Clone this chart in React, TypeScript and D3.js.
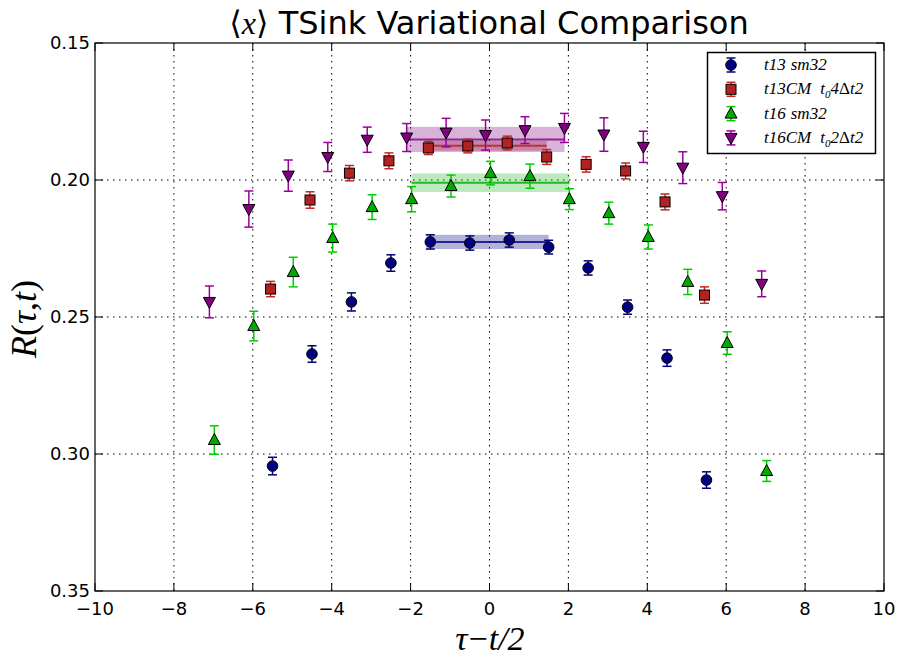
import React from "react";
import * as d3 from "d3";

const W = 899, H = 657;
const X0 = 95, X1 = 884, Y0 = 43, Y1 = 591;

const xTicks = [-10, -8, -6, -4, -2, 0, 2, 4, 6, 8, 10];
const yTicks = [0.15, 0.2, 0.25, 0.3, 0.35];

const blueX = [-5.5, -4.5, -3.5, -2.5, -1.5, -0.5, 0.5, 1.5, 2.5, 3.5, 4.5, 5.5];
const blueY = [0.3044, 0.2635, 0.2445, 0.2303, 0.2226, 0.2230, 0.2219, 0.2245, 0.2321, 0.2464, 0.2650, 0.3095];
const blueE = [0.0032, 0.003, 0.0033, 0.003, 0.0026, 0.0026, 0.0026, 0.0025, 0.0026, 0.0026, 0.003, 0.003];

const redX = [-5.55, -4.55, -3.55, -2.55, -1.55, -0.55, 0.45, 1.45, 2.45, 3.45, 4.45, 5.45];
const redY = [0.2398, 0.2073, 0.1975, 0.1930, 0.1883, 0.1876, 0.1865, 0.1916, 0.1943, 0.1967, 0.2080, 0.2420];
const redE = [0.0028, 0.003, 0.0028, 0.0029, 0.0024, 0.0025, 0.0025, 0.0027, 0.0028, 0.0029, 0.0029, 0.003];

const greenX = [-6.975, -5.975, -4.975, -3.975, -2.975, -1.975, -0.975, 0.025, 1.025, 2.025, 3.025, 4.025, 5.025, 6.025, 7.025];
const greenY = [0.2949, 0.2533, 0.2336, 0.2212, 0.2099, 0.2070, 0.2022, 0.1975, 0.1986, 0.2070, 0.2121, 0.2208, 0.2372, 0.2595, 0.3062];
const greenE = [0.0052, 0.0054, 0.0054, 0.0051, 0.0045, 0.0046, 0.004, 0.0043, 0.0044, 0.0038, 0.004, 0.0044, 0.0046, 0.0041, 0.0038];

const purpleX = [-7.1, -6.1, -5.1, -4.1, -3.1, -2.1, -1.1, -0.1, 0.9, 1.9, 2.9, 3.9, 4.9, 5.9, 6.9];
const purpleY = [0.2445, 0.2106, 0.1984, 0.1916, 0.1853, 0.1845, 0.1827, 0.1836, 0.1818, 0.1810, 0.1834, 0.1879, 0.1955, 0.2059, 0.2379];
const purpleE = [0.0058, 0.0066, 0.0057, 0.0053, 0.0046, 0.0051, 0.0052, 0.0055, 0.0049, 0.0053, 0.0061, 0.0057, 0.0058, 0.005, 0.0047];

// fits: [xStart, xEnd, value, error]
const blueFit = [-1.6, 1.5, 0.2226, 0.0026];
const redFit = [-1.55, 1.45, 0.1875, 0.0018];
const greenFit = [-1.975, 2.025, 0.2010, 0.0034];
const purpleFit = [-2.1, 1.9, 0.1852, 0.0046];

const series = [
  { name: "blue", xs: blueX, ys: blueY, es: blueE, fit: blueFit, fill: "#000080", bar: "#000080", band: "#000080", marker: "circle" },
  { name: "red", xs: redX, ys: redY, es: redE, fit: redFit, fill: "#b22222", bar: "#c02828", band: "#b22222", marker: "square" },
  { name: "green", xs: greenX, ys: greenY, es: greenE, fit: greenFit, fill: "#00aa00", bar: "#00cc00", band: "#22bb22", marker: "up" },
  { name: "purple", xs: purpleX, ys: purpleY, es: purpleE, fit: purpleFit, fill: "#800080", bar: "#990099", band: "#800080", marker: "down" },
];

const x = d3.scaleLinear().domain([-10, 10]).range([X0, X1]);
const y = d3.scaleLinear().domain([0.15, 0.35]).range([Y0, Y1]);

const MATH = "'Liberation Serif', 'DejaVu Serif', serif";
const SANS = "'DejaVu Sans', sans-serif";

function Marker({ kind, cx, cy, fill }: { kind: string; cx: number; cy: number; fill: string }) {
  if (kind === "circle") return <circle cx={cx} cy={cy} r={5.3} fill={fill} stroke="#000" strokeWidth={1} />;
  if (kind === "square") return <rect x={cx - 5} y={cy - 5} width={10} height={10} fill={fill} stroke="#000" strokeWidth={1} />;
  if (kind === "up") return <path d={`M${cx},${cy - 6.5} L${cx + 6},${cy + 4.5} L${cx - 6},${cy + 4.5} Z`} fill={fill} stroke="#000" strokeWidth={1} />;
  return <path d={`M${cx},${cy + 6.5} L${cx + 6},${cy - 4.5} L${cx - 6},${cy - 4.5} Z`} fill={fill} stroke="#000" strokeWidth={1} />;
}

function ErrBar({ cx, y1, y2, color }: { cx: number; y1: number; y2: number; color: string }) {
  return (
    <g stroke={color} strokeWidth={1.5}>
      <line x1={cx} x2={cx} y1={y1} y2={y2} />
      <line x1={cx - 4.5} x2={cx + 4.5} y1={y1} y2={y1} />
      <line x1={cx - 4.5} x2={cx + 4.5} y1={y2} y2={y2} />
    </g>
  );
}

export default function App() {
  const legendItems = [
    { s: series[0], label: <><tspan>t13</tspan><tspan dx={5}>sm32</tspan></> },
    { s: series[1], label: <><tspan>t13CM</tspan><tspan dx={9}>t</tspan><tspan fontSize={11} dy={4}>0</tspan><tspan dy={-4}>4</tspan><tspan fontStyle="normal">Δ</tspan><tspan>t2</tspan></> },
    { s: series[2], label: <><tspan>t16</tspan><tspan dx={5}>sm32</tspan></> },
    { s: series[3], label: <><tspan>t16CM</tspan><tspan dx={9}>t</tspan><tspan fontSize={11} dy={4}>0</tspan><tspan dy={-4}>2</tspan><tspan fontStyle="normal">Δ</tspan><tspan>t2</tspan></> },
  ];
  return (
    <svg width={W} height={H} style={{ position: "absolute", left: 0, top: 0, background: "#fff" }}>
      <rect x={0} y={0} width={W} height={H} fill="#fff" />
      {/* grid */}
      <g stroke="#000" strokeWidth={1} strokeDasharray="1.5,4.5">
        {xTicks.slice(1, -1).map((t) => (
          <line key={"gx" + t} x1={x(t)} x2={x(t)} y1={Y0} y2={Y1} />
        ))}
        {yTicks.slice(1, -1).map((t) => (
          <line key={"gy" + t} x1={X0} x2={X1} y1={y(t)} y2={y(t)} />
        ))}
      </g>
      {/* bands */}
      {series.map((s) => (
        <rect key={"b" + s.name} x={x(s.fit[0])} width={x(s.fit[1]) - x(s.fit[0])} y={y(s.fit[2] - s.fit[3])} height={y(s.fit[2] + s.fit[3]) - y(s.fit[2] - s.fit[3])} fill={s.band} fillOpacity={0.3} />
      ))}
      {series.map((s) => (
        <line key={"l" + s.name} x1={x(s.fit[0])} x2={x(s.fit[1])} y1={y(s.fit[2])} y2={y(s.fit[2])} stroke={s.fill} strokeWidth={2} strokeOpacity={0.8} />
      ))}
      {/* points */}
      {series.map((s) => (
        <g key={"p" + s.name}>
          {s.xs.map((xv, i) => (
            <ErrBar key={i} cx={x(xv)} y1={y(s.ys[i] - s.es[i])} y2={y(s.ys[i] + s.es[i])} color={s.bar} />
          ))}
          {s.xs.map((xv, i) => (
            <Marker key={"m" + i} kind={s.marker} cx={x(xv)} cy={y(s.ys[i])} fill={s.fill} />
          ))}
        </g>
      ))}
      {/* frame */}
      <rect x={X0} y={Y0} width={X1 - X0} height={Y1 - Y0} fill="none" stroke="#000" strokeWidth={1.2} />
      {/* ticks */}
      <g stroke="#000" strokeWidth={1}>
        {xTicks.map((t) => (
          <g key={"tx" + t}>
            <line x1={x(t)} x2={x(t)} y1={Y1} y2={Y1 - 8} />
            <line x1={x(t)} x2={x(t)} y1={Y0} y2={Y0 + 8} />
          </g>
        ))}
        {yTicks.map((t) => (
          <g key={"ty" + t}>
            <line x1={X0} x2={X0 + 8} y1={y(t)} y2={y(t)} />
            <line x1={X1} x2={X1 - 8} y1={y(t)} y2={y(t)} />
          </g>
        ))}
      </g>
      <g fontFamily={SANS} fontSize={18} fill="#000">
        {xTicks.map((t) => (
          <text key={"lx" + t} x={x(t)} y={Y1 + 24} textAnchor="middle">{t < 0 ? "\u2212" + Math.abs(t) : String(t)}</text>
        ))}
        {yTicks.map((t) => (
          <text key={"ly" + t} x={X0 - 5} y={y(t) + 6} textAnchor="end">{d3.format(".2f")(t)}</text>
        ))}
      </g>
      {/* title */}
      <text x={489} y={34} textAnchor="middle" fontSize={32} fontFamily={SANS}>
        <tspan fontFamily={MATH}>⟨</tspan><tspan fontFamily={MATH} fontStyle="italic">x</tspan><tspan fontFamily={MATH}>⟩</tspan>
        <tspan> TSink Variational Comparison</tspan>
      </text>
      {/* axis labels */}
      <text x={490} y={650} textAnchor="middle" fontSize={34} fontFamily={MATH} fontStyle="italic">
        τ<tspan fontStyle="normal" dx={1}>−</tspan><tspan dx={1}>t/2</tspan>
      </text>
      <text transform={`translate(36,319) rotate(-90)`} textAnchor="middle" fontSize={36} fontFamily={MATH} fontStyle="italic">
        R<tspan fontStyle="normal">(</tspan>τ<tspan fontStyle="normal">,</tspan>t<tspan fontStyle="normal">)</tspan>
      </text>
      {/* legend */}
      <rect x={707.5} y={52.5} width={168} height={101} fill="#fff" stroke="#000" strokeWidth={1.5} />
      {legendItems.map((it, i) => {
        const cy = 65 + i * 24.3;
        return (
          <g key={"lg" + i}>
            <ErrBar cx={731} y1={cy - 7} y2={cy + 7} color={it.s.bar} />
            <Marker kind={it.s.marker} cx={731} cy={cy} fill={it.s.fill} />
            <text x={764} y={cy + 5} fontSize={17} fontFamily={MATH} fontStyle="italic">{it.label}</text>
          </g>
        );
      })}
    </svg>
  );
}
